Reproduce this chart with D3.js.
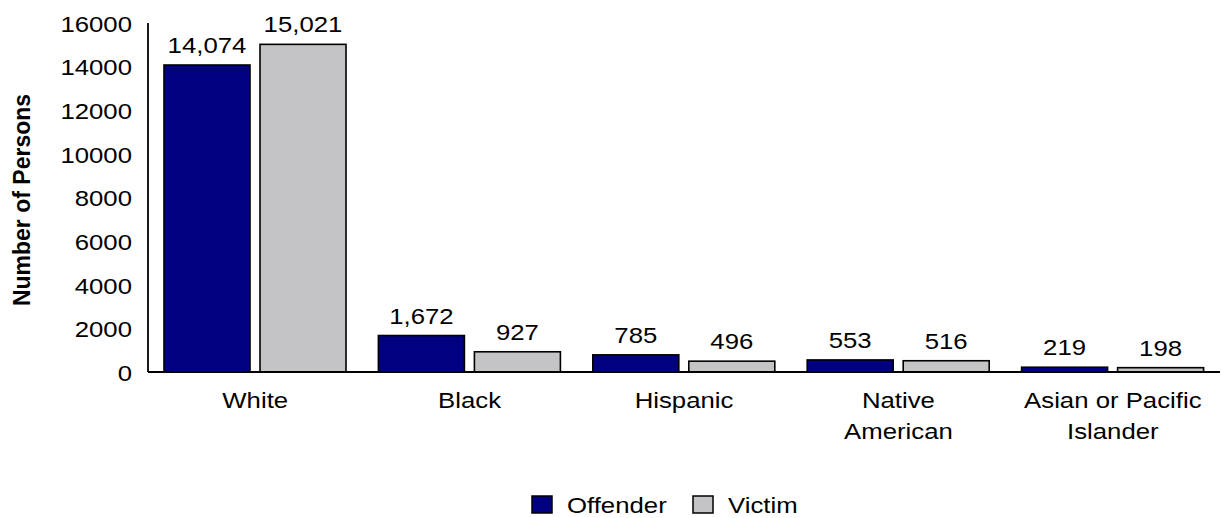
<!DOCTYPE html>
<html><head><meta charset="utf-8">
<script src="https://cdn.jsdelivr.net/npm/d3@7"></script>
<style>
body{margin:0;background:#fff;}
text{font-family:"Liberation Sans",Arial,sans-serif;fill:#000;}
</style></head>
<body>
<svg id="chart" width="1222" height="518"></svg>
<script>
const categories = ["White","Black","Hispanic","Native American","Asian or Pacific Islander"];
const categoryLines = [["White"],["Black"],["Hispanic"],["Native","American"],["Asian or Pacific","Islander"]];
const series = ["Offender","Victim"];
const offender = [14074,1672,785,553,219];
const victim = [15021,927,496,516,198];
const yTicks = [0,2000,4000,6000,8000,10000,12000,14000,16000];
const colors = {Offender:"#000080", Victim:"#c4c3c6"};

const svg = d3.select("#chart");
const SX = 1.12;
const FS = 23;
const fmt = d3.format(",");

const x0 = d3.scaleBand().domain(categories).range([148,1220]).padding(0);
const x1 = d3.scaleBand().domain(series).range([16,198]).paddingInner(10/96).paddingOuter(0);
const y = d3.scaleLinear().domain([0,16000]).range([372,23]);

const data = categories.map((c,i)=>({cat:c, values:[{s:"Offender",v:offender[i]},{s:"Victim",v:victim[i]}]}));

// bars
const g = svg.append("g");
const groups = g.selectAll("g.cat").data(data).join("g")
  .attr("transform", d=>`translate(${x0(d.cat)},0)`);
groups.selectAll("rect").data(d=>d.values).join("rect")
  .attr("x", d=>x1(d.s))
  .attr("width", x1.bandwidth())
  .attr("y", d=>y(d.v))
  .attr("height", d=>y(0)-y(d.v))
  .attr("fill", d=>colors[d.s])
  .attr("stroke","#000").attr("stroke-width",1.6);
groups.selectAll("text.val").data(d=>d.values).join("text")
  .attr("class","val")
  .attr("text-anchor","middle")
  .attr("font-size",FS)
  .attr("transform", d=>`translate(${x1(d.s)+x1.bandwidth()/2},${y(d.v)-12}) scale(${SX},1)`)
  .text(d=>fmt(d.v));

// y axis
const yAxis = svg.append("g").attr("transform","translate(148,0)")
  .call(d3.axisLeft(y).tickValues(yTicks).tickSize(0).tickPadding(0).tickFormat(d3.format("d")));
yAxis.select(".domain").remove();
yAxis.selectAll("text").attr("font-size",FS).attr("x",-16/SX).attr("dy","0.36em")
  .attr("font-family",'"Liberation Sans",Arial,sans-serif').attr("fill","#000")
  .attr("transform",`scale(${SX},1)`);
svg.append("line").attr("x1",148).attr("x2",148).attr("y1",y(16000)).attr("y2",y(0))
  .attr("stroke","#000").attr("stroke-width",1.8);

// x axis
const xAxis = svg.append("g").attr("transform",`translate(0,${y(0)})`)
  .call(d3.axisBottom(x0).tickSize(0).tickPadding(0).tickFormat(""));
xAxis.select(".domain").remove();
xAxis.selectAll(".tick").each(function(d,i){
  const t = d3.select(this).append("text").attr("text-anchor","middle")
    .attr("font-size",FS).attr("fill","#000")
    .attr("font-family",'"Liberation Sans",Arial,sans-serif')
    .attr("transform",`scale(${SX},1)`);
  categoryLines[i].forEach((ln,j)=>{
    t.append("tspan").attr("x",0).attr("y",36+j*31).text(ln);
  });
});
svg.append("line").attr("x1",148).attr("x2",1220).attr("y1",y(0)).attr("y2",y(0))
  .attr("stroke","#000").attr("stroke-width",1.8);

// y title
svg.append("text").attr("text-anchor","middle").attr("font-size",23).attr("font-weight","bold")
  .attr("transform","translate(30,200) rotate(-90)").text("Number of Persons");

// legend
const legendX = [532,693];
const lg = svg.append("g").selectAll("g").data(series).join("g")
  .attr("transform",(d,i)=>`translate(${legendX[i]},496)`);
lg.append("rect").attr("width",20).attr("height",17).attr("fill",d=>colors[d])
  .attr("stroke","#000").attr("stroke-width",1.5);
lg.append("text").attr("font-size",FS).attr("transform",`translate(35,17) scale(${SX},1)`).text(d=>d);
</script>
</body></html>
